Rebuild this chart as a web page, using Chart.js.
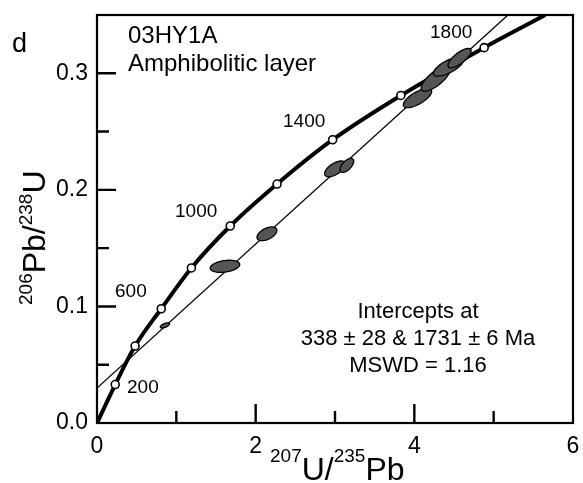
<!DOCTYPE html>
<html>
<head>
<meta charset="utf-8">
<script src="https://cdn.jsdelivr.net/npm/chart.js@4.4.0/dist/chart.umd.min.js"></script>
<style>
  html, body { margin: 0; padding: 0; background: #fff; }
</style>
</head>
<body>
<canvas id="concordiachart" width="583" height="483"></canvas>
<script>
const FONT = '"Liberation Sans", Arial, sans-serif';

// concordia curve, age marks every 200 Ma
const markerAges = [0, 200, 400, 600, 800, 1000, 1200, 1400, 1600, 1800, null];
const concordiaX = [0, 0.23, 0.48, 0.81, 1.19, 1.68, 2.27, 2.97, 3.83, 4.88, 5.65];
const concordiaY = [0, 0.033, 0.066, 0.098, 0.133, 0.169, 0.205, 0.243, 0.281, 0.322, 0.35];

// discordia through 338 and 1731 Ma
const discordiaX = [0, 5.18];
const discordiaY = [0.030, 0.35];

// error ellipses: centre, half extent in x / y, correlation
const ellipseX    = [0.856, 1.613, 2.142, 3.00, 3.15, 4.04, 4.27, 4.43, 4.57];
const ellipseY    = [0.0837, 0.1344, 0.1623, 0.218, 0.221, 0.2787, 0.2954, 0.3057, 0.313];
const ellipseErrX = [0.058, 0.186, 0.125, 0.13, 0.086, 0.178, 0.184, 0.19, 0.146];
const ellipseErrY = [0.0022, 0.0052, 0.0059, 0.0068, 0.0060, 0.0082, 0.0108, 0.0082, 0.0083];
const ellipseRho  = [0.6, 0.3, 0.5, 0.6, 0.6, 0.7, 0.75, 0.7, 0.75];

const xTickLabels = ["0", "2", "4", "6"];
const yTickLabels = ["0.0", "0.1", "0.2", "0.3"];

const concordiaPts = concordiaX.map((x, i) => ({ x: x, y: concordiaY[i] }));
const discordiaPts = discordiaX.map((x, i) => ({ x: x, y: discordiaY[i] }));

// box around the plot + inward tick marks
const framePlugin = {
    id: 'frame',
    afterDraw(chart) {
        const { ctx, chartArea: a, scales } = chart;
        ctx.save();
        ctx.strokeStyle = '#000';
        ctx.lineWidth = 2.2;
        ctx.strokeRect(a.left, a.top, a.right - a.left, a.bottom - a.top);
        ctx.lineWidth = 2.4;
        ctx.beginPath();
        scales.x.ticks.forEach(t => {
            if (t.value <= scales.x.min || t.value >= scales.x.max) return;
            const px = scales.x.getPixelForValue(t.value);
            const len = t.value % 2 === 0 ? 19 : 12;
            ctx.moveTo(px, a.bottom);
            ctx.lineTo(px, a.bottom - len);
        });
        scales.y.ticks.forEach(t => {
            if (t.value <= scales.y.min + 1e-9 || t.value >= scales.y.max - 1e-9) return;
            const py = scales.y.getPixelForValue(t.value);
            const major = Math.round(t.value * 100) % 10 === 0;
            ctx.moveTo(a.left, py);
            ctx.lineTo(a.left + (major ? 19 : 12), py);
        });
        ctx.stroke();
        ctx.restore();
    }
};

const ellipsePlugin = {
    id: 'ellipses',
    afterDatasetsDraw(chart) {
        const { ctx, scales } = chart;
        ctx.save();
        ctx.fillStyle = '#555555';
        ctx.strokeStyle = '#000';
        ctx.lineWidth = 1.3;
        ellipseX.forEach((cx, i) => {
            const ex = ellipseErrX[i], ey = ellipseErrY[i], r = ellipseRho[i];
            const q = Math.sqrt(1 - r * r);
            ctx.beginPath();
            for (let k = 0; k <= 72; k++) {
                const a = k / 72 * Math.PI * 2;
                const vx = cx + ex * Math.cos(a);
                const vy = ellipseY[i] + ey * (r * Math.cos(a) + q * Math.sin(a));
                const px = scales.x.getPixelForValue(vx);
                const py = scales.y.getPixelForValue(vy);
                if (k === 0) ctx.moveTo(px, py); else ctx.lineTo(px, py);
            }
            ctx.closePath();
            ctx.fill();
            ctx.stroke();
        });
        ctx.restore();
    }
};

// text with superscript parts, list of [text, isSup]
function drawRich(ctx, parts, big, small, rise) {
    let x = 0;
    parts.forEach(p => {
        ctx.font = (p[1] ? small : big) + 'px ' + FONT;
        ctx.fillText(p[0], x, p[1] ? -rise : 0);
        x += ctx.measureText(p[0]).width;
    });
}

const textPlugin = {
    id: 'labels',
    afterDraw(chart) {
        const ctx = chart.ctx;
        ctx.save();
        ctx.fillStyle = '#000';
        ctx.textBaseline = 'alphabetic';
        ctx.textAlign = 'left';

        ctx.font = '27px ' + FONT;
        ctx.fillText('d', 12, 52);

        ctx.font = '24px ' + FONT;
        ctx.fillText('03HY1A', 128, 43);
        ctx.fillText('Amphibolitic layer', 128, 71);

        ctx.font = '19px ' + FONT;
        ctx.fillText('1800', 430, 38);
        ctx.fillText('1400', 283, 127);
        ctx.fillText('1000', 175, 217);
        ctx.fillText('600', 115, 297);
        ctx.fillText('200', 127, 393);

        ctx.font = '22px ' + FONT;
        ctx.textAlign = 'center';
        ctx.fillText('Intercepts at', 418, 318);
        ctx.fillText('338 \u00b1 28 & 1731 \u00b1 6 Ma', 418, 345);
        ctx.fillText('MSWD = 1.16', 418, 372);
        ctx.textAlign = 'left';

        // x axis title
        ctx.save();
        ctx.translate(270, 480);
        drawRich(ctx, [['207', true], ['U/', false], ['235', true], ['Pb', false]], 32, 19, 18);
        ctx.restore();

        // y axis title
        ctx.save();
        ctx.translate(45, 305);
        ctx.rotate(-Math.PI / 2);
        drawRich(ctx, [['206', true], ['Pb/', false], ['238', true], ['U', false]], 32, 19, 13);
        ctx.restore();

        ctx.restore();
    }
};

const concordiaChart = new Chart(document.getElementById('concordiachart'), {
    type: 'scatter',
    data: {
        datasets: [
            {
                label: 'Concordia',
                data: concordiaPts,
                showLine: true,
                borderColor: '#000',
                borderWidth: 4,
                cubicInterpolationMode: 'monotone',
                pointRadius: ctx => markerAges[ctx.dataIndex] ? 4 : 0,
                pointBackgroundColor: '#fff',
                pointBorderColor: '#000',
                pointBorderWidth: 1.6
            },
            {
                label: 'Discordia',
                data: discordiaPts,
                showLine: true,
                borderColor: '#000',
                borderWidth: 1.3,
                pointRadius: 0
            }
        ]
    },
    options: {
        responsive: false,
        animation: false,
        layout: { padding: { top: 15, right: 10, left: 0, bottom: 0 } },
        plugins: {
            legend: { display: false },
            tooltip: { enabled: false }
        },
        scales: {
            x: {
                type: 'linear',
                min: 0,
                max: 6,
                grid: { display: false, drawTicks: false },
                border: { display: false },
                ticks: {
                    stepSize: 1,
                    autoSkip: false,
                    maxRotation: 0,
                    padding: 10,
                    color: '#000',
                    font: { family: FONT, size: 23 },
                    callback: v => (v % 2 === 0 ? xTickLabels[v / 2] : '')
                },
                afterFit: s => {
                    s.height = 60;
                    s.paddingLeft = 0;
                    s.paddingRight = 0;
                }
            },
            y: {
                type: 'linear',
                min: 0,
                max: 0.35,
                grid: { display: false, drawTicks: false },
                border: { display: false },
                ticks: {
                    stepSize: 0.05,
                    autoSkip: false,
                    padding: 9,
                    color: '#000',
                    font: { family: FONT, size: 23 },
                    callback: v => {
                        const t = Math.round(v * 100);
                        return t % 10 === 0 ? yTickLabels[t / 10] : '';
                    }
                },
                afterFit: s => {
                    s.width = 97;
                    s.paddingTop = 0;
                    s.paddingBottom = 0;
                }
            }
        }
    },
    plugins: [ellipsePlugin, framePlugin, textPlugin]
});
</script>
</body>
</html>
